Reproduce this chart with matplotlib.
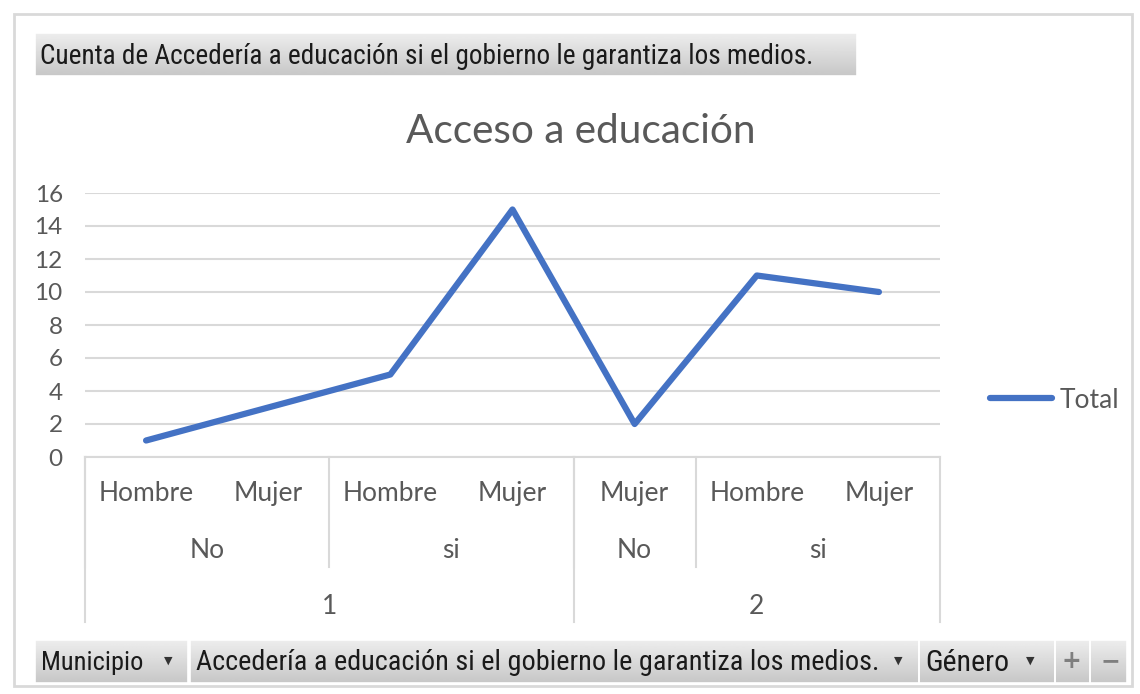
import matplotlib.pyplot as plt
import numpy as np
from matplotlib.patches import Rectangle
from matplotlib import font_manager
import matplotlib.transforms as mtransforms

# pivot chart data
genero = ["Hombre", "Mujer", "Hombre", "Mujer", "Mujer", "Hombre", "Mujer"]
accederia = ["No", "si", "No", "si"]
accederia_span = [(0, 1), (2, 3), (4, 4), (5, 6)]
municipio = ["1", "2"]
municipio_span = [(0, 3), (4, 6)]
total = [1, 3, 5, 15, 2, 11, 10]

title = "Acceso a educación"
field_top = "Cuenta de Accedería a educación si el gobierno le garantiza los medios."
field_bottom = ["Municipio", "Accedería a educación si el gobierno le garantiza los medios.", "Género"]

W, H = 1140, 694
fig = plt.figure(figsize=(W / 100, H / 100), dpi=100)
plt.rcParams['font.family'] = ['Lato', 'DejaVu Sans']

# narrow font for the field buttons, if one is installed
names = {f.name for f in font_manager.fontManager.ttflist}
narrow = 'Lato'
for cand in ['Roboto Condensed', 'Liberation Sans Narrow', 'DejaVu Sans Condensed']:
    if cand in names:
        narrow = cand
        break

renderer = fig.canvas.get_renderer()


def fit(t, width_px):
    # scale the font so the text spans roughly width_px
    w = t.get_window_extent(renderer).width
    t.set_fontsize(t.get_fontsize() * width_px / w)


# overlay in pixel coordinates for the frame and field buttons
bg = fig.add_axes([0, 0, 1, 1])
bg.set_xlim(0, W)
bg.set_ylim(H, 0)
bg.axis('off')
bg.add_patch(Rectangle((14, 14), 1118, 672, fill=False, ec='#d9d9d9', lw=2))

grad = np.linspace(0.93, 0.78, 50).reshape(-1, 1)


def button(x0, x1, y0, y1):
    bg.imshow(grad, cmap='gray', vmin=0, vmax=1, aspect='auto',
              extent=(x0, x1, y1, y0), zorder=1)
    bg.add_patch(Rectangle((x0, y0), x1 - x0, y1 - y0, fill=False,
                           ec='white', lw=1.2, zorder=2))


def arrow(x, y):
    bg.text(x, y, "▼", fontsize=8, color='#333333', ha='center', va='center',
            family='DejaVu Sans', zorder=3)


button(35, 857, 33, 76)
t = bg.text(40, 56, field_top, fontsize=13, color='#1a1a1a', va='center',
            family=narrow, zorder=3)
fit(t, 772)

btns = [(35, 188), (190, 919), (919, 1055)]
text_w = [102, 681, 84]
arrow_x = [168, 898, 1030]
for (x0, x1), lab, tw, ax_ in zip(btns, field_bottom, text_w, arrow_x):
    button(x0, x1, 640, 683)
    t = bg.text(x0 + 6, 663, lab, fontsize=13, color='#1a1a1a', va='center',
                family=narrow, zorder=3)
    fit(t, tw)
    arrow(ax_, 661)
button(1055, 1090, 640, 683)
button(1090, 1127, 640, 683)
bg.text(1071, 661, "+", fontsize=17, color='#7f7f7f', ha='center', va='center',
        family='DejaVu Sans', fontweight='bold', zorder=3)
bg.text(1110, 661, "−", fontsize=17, color='#7f7f7f', ha='center', va='center',
        family='DejaVu Sans', fontweight='bold', zorder=3)
bg.set_xlim(0, W)
bg.set_ylim(H, 0)

t = bg.text(581, 131, title, fontsize=22, color='#595959', ha='center', va='center')
fit(t, 348)

# plot area
ax = fig.add_axes([85 / W, 1 - 457 / H, 855 / W, 264 / H])
x = np.arange(len(total))
ax.plot(x, total, color='#4472C4', lw=4.5, solid_joinstyle='round',
        solid_capstyle='round', label='Total', zorder=3)
ax.set_xlim(-0.5, len(total) - 0.5)
ax.set_ylim(0, 16)
ax.set_yticks(range(0, 17, 2))
ax.yaxis.grid(True, color='#d9d9d9', lw=1.5)
ax.set_axisbelow(True)
for s in ['top', 'right', 'left']:
    ax.spines[s].set_visible(False)
ax.spines['bottom'].set_color('#d9d9d9')
ax.spines['bottom'].set_linewidth(1.5)
ax.tick_params(axis='y', length=0, labelsize=17.5, labelcolor='#595959', pad=16)
ax.set_xticks([])

tr = mtransforms.blended_transform_factory(ax.transData, ax.transAxes)
lab_kw = dict(transform=tr, ha='center', va='center', fontsize=19,
              color='#595959', clip_on=False)
for i, g in enumerate(genero):
    ax.text(i, -0.14, g, **lab_kw)
for (a, b), lab in zip(accederia_span, accederia):
    ax.text((a + b) / 2, -0.355, lab, **lab_kw)
for (a, b), lab in zip(municipio_span, municipio):
    ax.text((a + b) / 2, -0.565, lab, **lab_kw)

line_kw = dict(transform=tr, color='#d9d9d9', lw=1.5, clip_on=False)
for a, b in accederia_span:
    ax.plot([a - 0.5, a - 0.5], [0, -0.417], **line_kw)
for a, b in municipio_span:
    ax.plot([a - 0.5, a - 0.5], [0, -0.625], **line_kw)
ax.plot([len(total) - 0.5] * 2, [0, -0.625], **line_kw)

fig.legend(loc='center left', bbox_to_anchor=(990 / W, 1 - 400 / H),
           bbox_transform=fig.transFigure, frameon=False, borderpad=0,
           borderaxespad=0, handlelength=2.35, handletextpad=0.3,
           prop={'size': 19}, labelcolor='#595959')

fig.savefig("out.png", dpi=100)
